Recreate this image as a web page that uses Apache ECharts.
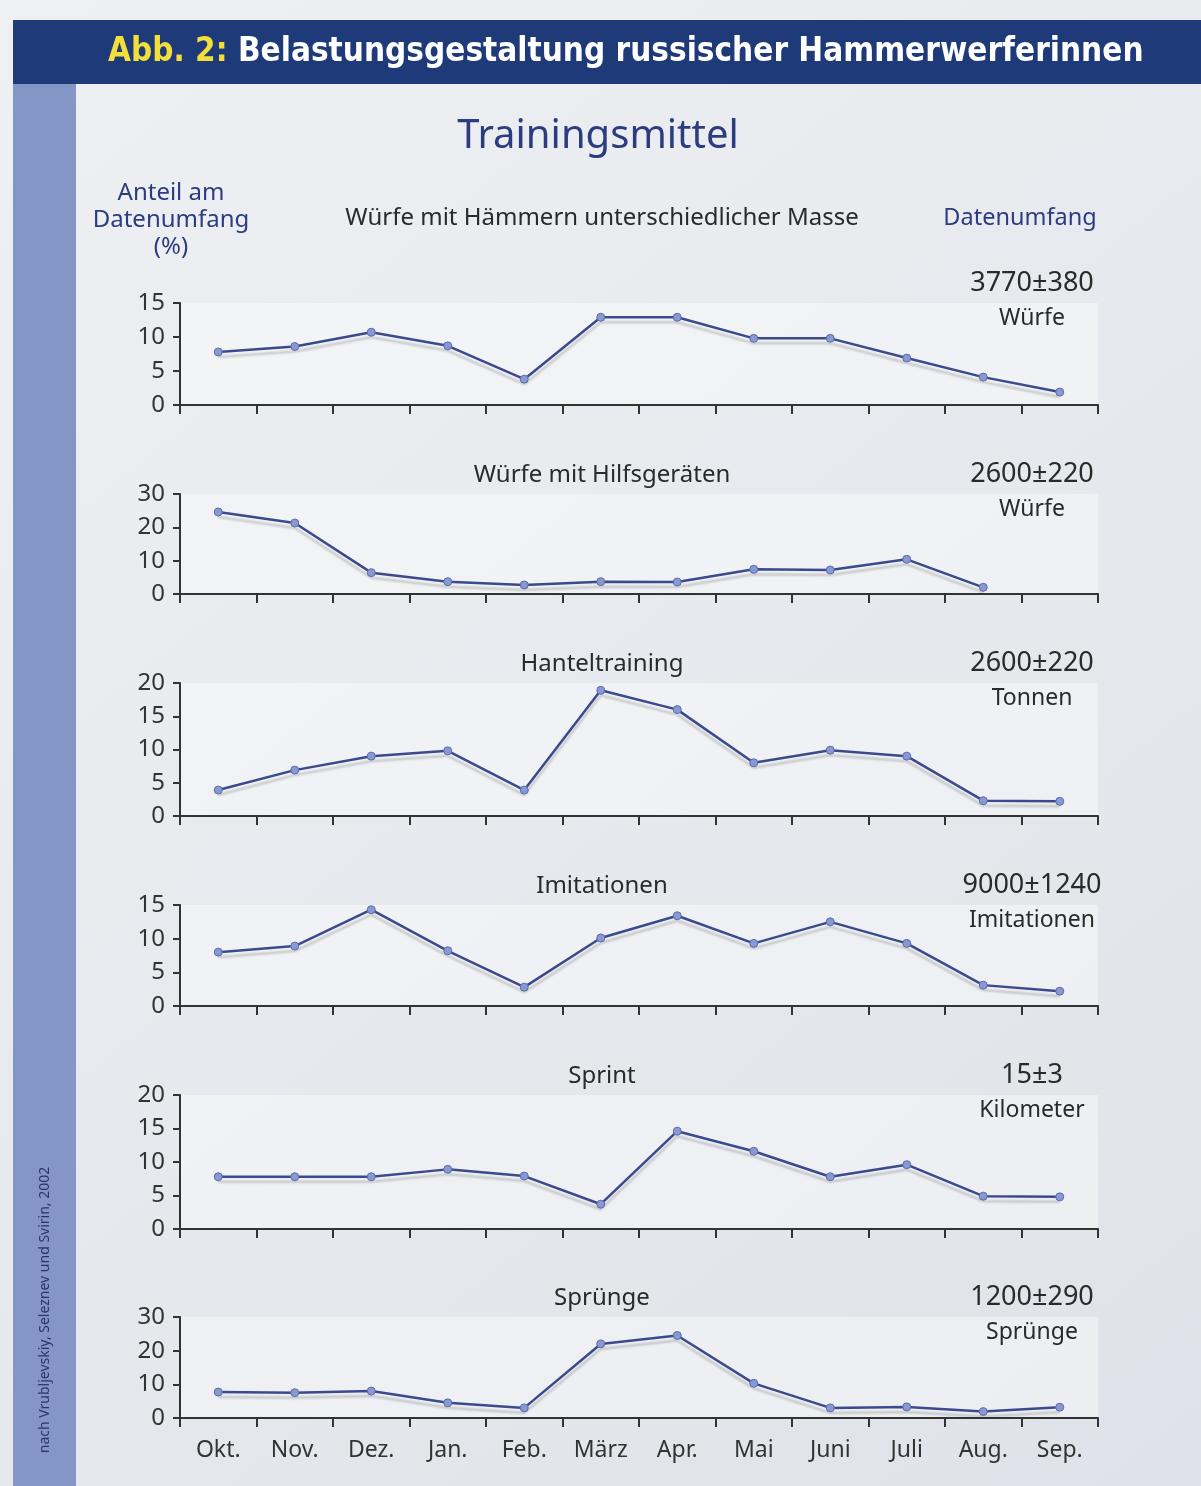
<!DOCTYPE html>
<html>
<head>
<meta charset="utf-8">
<script src="https://cdn.jsdelivr.net/npm/echarts@6/dist/echarts.min.js"></script>
<style>
  html, body { margin: 0; padding: 0; background: #eceef1; }
  #main { width: 1201px; height: 1486px; }
</style>
</head>
<body>
<div id="main"></div>
<script>
// Monate (Okt. bis Sep.)
var months = ['Okt.', 'Nov.', 'Dez.', 'Jan.', 'Feb.', 'März', 'Apr.', 'Mai', 'Juni', 'Juli', 'Aug.', 'Sep.'];

// Anteil am Datenumfang (%) je Trainingsmittel
var hammerWuerfe  = [7.8, 8.6, 10.7, 8.7, 3.8, 12.9, 12.9, 9.8, 9.8, 6.9, 4.1, 1.9];
var hilfsgeraete  = [24.6, 21.3, 6.4, 3.7, 2.7, 3.7, 3.6, 7.4, 7.2, 10.4, 2.0, null];
var hanteltraining = [3.9, 6.9, 9.0, 9.8, 3.9, 18.9, 16.0, 8.0, 9.9, 9.0, 2.3, 2.2];
var imitationen   = [8.0, 8.9, 14.3, 8.2, 2.8, 10.1, 13.4, 9.3, 12.5, 9.3, 3.1, 2.2];
var sprint        = [7.8, 7.8, 7.8, 8.9, 7.9, 3.7, 14.6, 11.6, 7.8, 9.6, 4.9, 4.8];
var spruenge      = [7.7, 7.5, 8.0, 4.5, 3.0, 22.0, 24.5, 10.3, 3.0, 3.3, 1.9, 3.2];

var panelTitles = ['Würfe mit Hämmern unterschiedlicher Masse', 'Würfe mit Hilfsgeräten', 'Hanteltraining', 'Imitationen', 'Sprint', 'Sprünge'];
var volumes     = ['3770±380', '2600±220', '2600±220', '9000±1240', '15±3', '1200±290'];
var units       = ['Würfe', 'Würfe', 'Tonnen', 'Imitationen', 'Kilometer', 'Sprünge'];
var yMax        = [15, 30, 20, 15, 20, 30];
var yStep       = [5, 10, 5, 5, 5, 10];

var seriesData = [hammerWuerfe, hilfsgeraete, hanteltraining, imitationen, sprint, spruenge];

// Layout der sechs Diagramme
var panelTop    = [303, 494, 683, 905, 1095, 1317];
var panelHeight = [102, 100, 133, 101, 134, 101];

var font = 'Noto Sans';
var navy = '#2b3c80';

var chart = echarts.init(document.getElementById('main'));

var grids = [], xAxes = [], yAxes = [], series = [];
var graphics = [
  { type: 'rect', shape: { x: 13, y: 20, width: 1188, height: 64 }, style: { fill: '#1f3a78' } },
  { type: 'rect', shape: { x: 13, y: 84, width: 63, height: 1402 }, style: { fill: '#8496c6' } },
  {
    type: 'text', x: 108, y: 52,
    style: {
      text: '{a|Abb. 2:}{b| Belastungsgestaltung russischer Hammerwerferinnen}',
      verticalAlign: 'middle',
      rich: {
        a: { fill: '#f3df3a', fontSize: 33, fontWeight: 'bold', fontFamily: 'DejaVu Sans Condensed' },
        b: { fill: '#ffffff', fontSize: 33, fontWeight: 'bold', fontFamily: 'DejaVu Sans Condensed' }
      }
    }
  },
  { type: 'text', x: 598, y: 137, style: { text: 'Trainingsmittel', fill: navy, fontSize: 40, fontFamily: font, align: 'center', verticalAlign: 'middle' } },
  { type: 'text', x: 171, y: 220, style: { text: 'Anteil am\nDatenumfang\n(%)', fill: navy, fontSize: 24, lineHeight: 27, fontFamily: font, align: 'center', verticalAlign: 'middle' } },
  { type: 'text', x: 1020, y: 218, style: { text: 'Datenumfang', fill: navy, fontSize: 23.5, fontFamily: font, align: 'center', verticalAlign: 'middle' } },
  {
    type: 'text', x: 45, y: 1310, rotation: Math.PI / 2,
    style: { text: 'nach Vrubljevskiy, Seleznev und Svirin, 2002', fill: '#2a3666', fontSize: 14, fontFamily: font, align: 'center', verticalAlign: 'middle' }
  }
];

for (var i = 0; i < 6; i++) {
  var last = i === 5;
  grids.push({
    left: 180, width: 918, top: panelTop[i], height: panelHeight[i],
    show: true, borderWidth: 0, backgroundColor: 'rgba(255,255,255,0.4)'
  });
  xAxes.push({
    type: 'category', gridIndex: i, data: months, boundaryGap: true,
    axisLine: { lineStyle: { color: '#333', width: 2 } },
    axisTick: { show: true, length: 9, lineStyle: { color: '#333', width: 2 } },
    axisLabel: { show: last, color: '#333', fontSize: 23, fontFamily: font, margin: 21 }
  });
  yAxes.push({
    type: 'value', gridIndex: i, min: 0, max: yMax[i], interval: yStep[i],
    axisLine: { show: true, lineStyle: { color: '#333', width: 2 } },
    axisTick: { show: true, length: 7, lineStyle: { color: '#333', width: 2 } },
    axisLabel: { color: '#333', fontSize: 24, fontFamily: font, margin: 15 },
    splitLine: { show: false }
  });
  series.push({
    type: 'line', xAxisIndex: i, yAxisIndex: i, data: seriesData[i],
    symbol: 'circle', symbolSize: 8, connectNulls: false,
    lineStyle: { color: '#3a4a8c', width: 2.5, shadowColor: 'rgba(60,60,60,0.22)', shadowOffsetY: 5, shadowBlur: 2 },
    itemStyle: { color: '#8799d0', borderColor: '#5a6cae', borderWidth: 1 },
    emphasis: { disabled: true }
  });
  var titleY = i > 0 ? panelTop[i] - 19 : 218;
  graphics.push({ type: 'text', x: 602, y: titleY, style: { text: panelTitles[i], fill: '#2a2a2a', fontSize: 24, fontFamily: font, align: 'center', verticalAlign: 'middle' } });
  graphics.push({ type: 'text', x: 1032, y: panelTop[i] - 20, style: { text: volumes[i], fill: '#2a2a2a', fontSize: 27, fontFamily: font, align: 'center', verticalAlign: 'middle' } });
  graphics.push({ type: 'text', x: 1032, y: panelTop[i] + 15, style: { text: units[i], fill: '#2a2a2a', fontSize: 23, fontFamily: font, align: 'center', verticalAlign: 'middle' } });
}

chart.setOption({
  backgroundColor: {
    type: 'linear', x: 0, y: 0, x2: 1, y2: 1,
    colorStops: [{ offset: 0, color: '#eef0f3' }, { offset: 1, color: '#dfe2e8' }]
  },
  animation: false,
  grid: grids,
  xAxis: xAxes,
  yAxis: yAxes,
  series: series,
  graphic: graphics
});
</script>
</body>
</html>
